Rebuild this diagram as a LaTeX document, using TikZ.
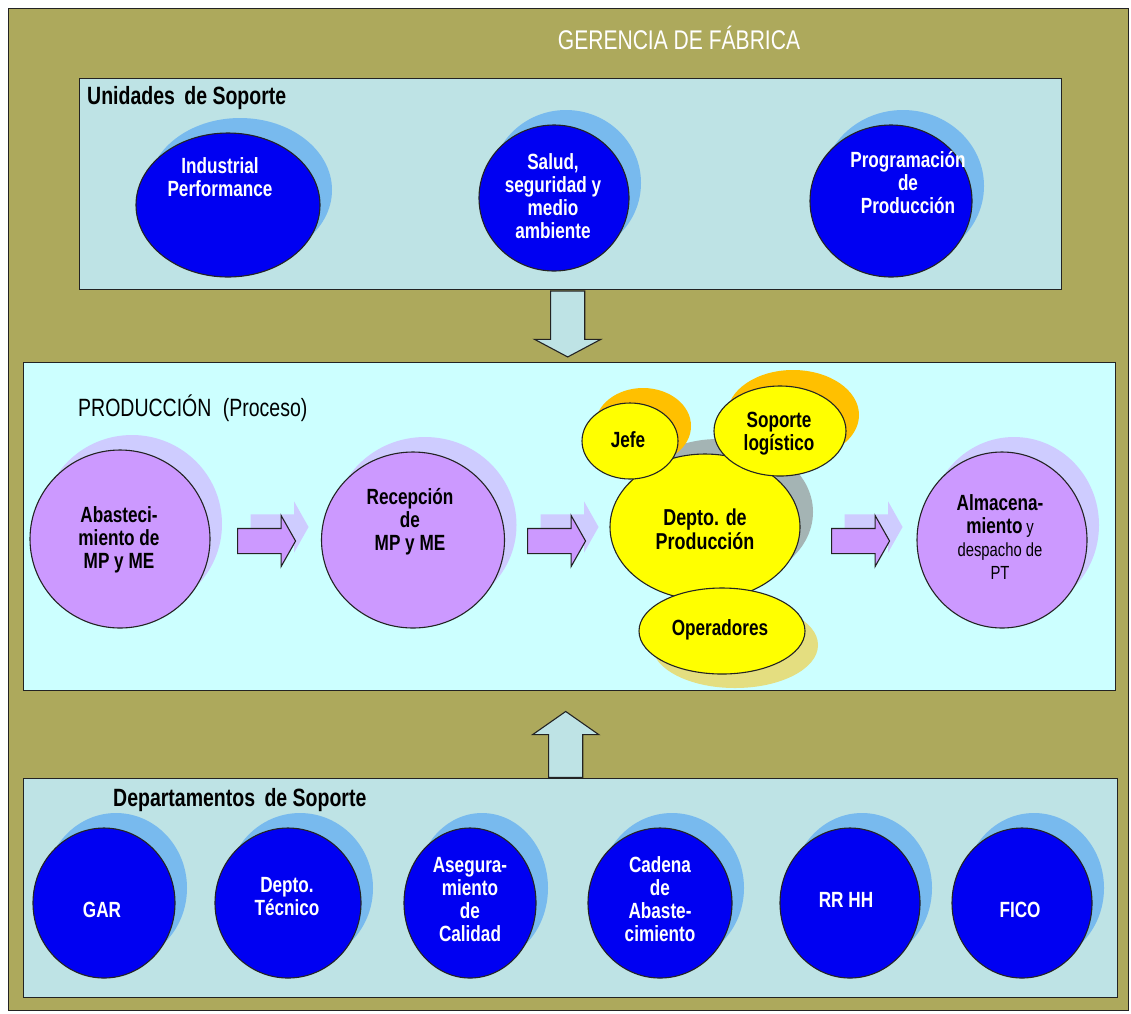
\documentclass[tikz,border=0pt]{standalone}
\usepackage{fontspec}
\setmainfont{Liberation Sans}[FakeStretch=0.86]
\newfontfamily\narrowsans{Liberation Sans}[FakeStretch=0.78]
\usetikzlibrary{shapes.geometric,shapes.arrows,shadows}

\definecolor{olive}{RGB}{173,169,92}
\definecolor{panelgray}{RGB}{190,227,229}
\definecolor{panelcyan}{RGB}{204,255,255}
\definecolor{deepblue}{RGB}{0,0,242}
\definecolor{skyshadow}{RGB}{120,186,238}
\definecolor{lilac}{RGB}{204,153,255}
\definecolor{lilacshadow}{RGB}{206,204,255}
\definecolor{sun}{RGB}{255,255,0}
\definecolor{amber}{RGB}{255,192,0}
\definecolor{slate}{RGB}{164,180,180}
\definecolor{khaki}{RGB}{228,222,128}
\definecolor{edge}{RGB}{35,35,35}

\tikzset{
  panel/.style={rectangle, draw=edge, line width=1.4pt, anchor=north west, inner sep=0pt},
  paneltitle/.style={anchor=west, inner sep=0pt, font=\narrowsans\bfseries\fontsize{25}{28}\selectfont},
  circtext/.style={align=center, inner sep=0pt, font=\narrowsans\bfseries\fontsize{22}{23}\selectfont},
  wtext/.style={circtext, text=white},
  btext/.style={circtext, text=black},
  blob/.style={ellipse, draw=edge, line width=1.1pt, inner sep=0pt},
  bluecirc/.style={blob, fill=deepblue,
    general shadow={fill=skyshadow, shadow xshift=12pt, shadow yshift=15pt}},
  lilaccirc/.style={blob, fill=lilac,
    general shadow={fill=lilacshadow, shadow xshift=12pt, shadow yshift=15pt}},
  suncirc/.style={blob, fill=sun},
  % the shaft half-width comes from the inner sep across the arrow
  blockarrow/.style={single arrow, draw=edge, line width=1.1pt, anchor=tail},
  flowarrow/.style={blockarrow, fill=lilac, minimum height=58pt,
    inner xsep=0pt, inner ysep=12pt,
    single arrow head extend=13pt, single arrow tip angle=121,
    general shadow={fill=lilacshadow, shadow xshift=13pt, shadow yshift=14pt}},
  linkarrow/.style={blockarrow, fill=panelgray, minimum height=66pt,
    inner xsep=16.5pt, inner ysep=0pt, single arrow head extend=16pt}
}

\begin{document}
\begin{tikzpicture}[x=1pt,y=-1pt]
\useasboundingbox[fill=white] (0,0) rectangle (1131,1013);

% outer frame
\node[panel, fill=olive, line width=1pt, minimum width=1120pt, minimum height=1002pt] (frame) at (8,8) {};
\node[inner sep=0pt, text=white, font=\narrowsans\fontsize{27}{30}\selectfont] (gerencia) at (679,38) {GERENCIA DE FÁBRICA};

% support units
\node[panel, fill=panelgray, minimum width=982pt, minimum height=211pt] (unidades) at (79,78) {};
\node[paneltitle] (unidadesT) at (87,98) {Unidades\hspace{4pt} de Soporte};

\node[bluecirc, minimum width=184pt, minimum height=144pt] (ip) at (228,205) {};
\node[wtext] (ipT) at (220,177) {Industrial\\Performance};
\node[bluecirc, minimum width=150pt, minimum height=146pt] (salud) at (554,198) {};
\node[wtext] (saludT) at (553,196) {Salud,\\seguridad y\\medio\\ambiente};
\node[bluecirc, minimum width=162pt, minimum height=152pt] (prog) at (891,201) {};
\node[wtext] (progT) at (908,183) {Programación\\de\\Producción};

% production process
\node[panel, fill=panelcyan, minimum width=1092pt, minimum height=328pt] (produccion) at (23,362) {};
\node[paneltitle, font=\narrowsans\fontsize{25}{28}\selectfont] (produccionT) at (78,408) {PRODUCCIÓN\hspace{6pt} (Proceso)};

\node[linkarrow, single arrow tip angle=124, shape border rotate=270] (bajada) at ([xshift=-3pt]unidades.south) {};

\node[lilaccirc, minimum width=180pt, minimum height=178pt] (abast) at (120,539) {};
\node[btext] (abastT) at (119,540) {Abasteci-\\miento de\\MP y ME};
\node[lilaccirc, minimum width=183pt, minimum height=176pt] (recep) at (413,540) {};
\node[btext] (recepT) at (410,522) {Recepción\\de\\MP y ME};

\node[flowarrow] (f1) at (237,541) {};
\node[flowarrow] (f2) at (527,541) {};
\node[flowarrow] (f3) at (831,541) {};

\node[suncirc, minimum width=190pt, minimum height=146pt,
  general shadow={fill=slate, shadow xshift=13pt, shadow yshift=15pt}] (depto) at (705,527) {};
\node[suncirc, minimum width=96pt, minimum height=76pt,
  general shadow={fill=amber, shadow xshift=13pt, shadow yshift=15pt}] (jefe) at (630,441) {};
\node[suncirc, minimum width=132pt, minimum height=90pt,
  general shadow={fill=amber, shadow xshift=13pt, shadow yshift=16pt}] (logis) at (780,431) {};
\node[suncirc, minimum width=166pt, minimum height=86pt,
  general shadow={fill=khaki, shadow xshift=13pt, shadow yshift=-14pt}] (oper) at (722,631) {};
\node[btext, font=\narrowsans\bfseries\fontsize{23}{24}\selectfont] (deptoT) at (705,529) {Depto. de\\Producción};
\node[btext] (jefeT) at (628,440) {Jefe};
\node[btext] (logisT) at (779,434) {Soporte\\logístico};
\node[btext] (operT) at (720,630) {Operadores};

\node[lilaccirc, minimum width=170pt, minimum height=176pt] (almac) at (1002,540) {};
\node[btext] (almacT) at (1000,537) {Almacena-\\miento\,{\mdseries\fontsize{19}{22}\selectfont y}\\{\mdseries\fontsize{19}{20}\selectfont despacho de}\\{\mdseries\fontsize{19}{20}\selectfont PT}};

% support departments
\node[panel, fill=panelgray, minimum width=1094pt, minimum height=219pt] (departamentos) at (23,778) {};
\node[paneltitle] (departamentosT) at (113,800) {Departamentos\hspace{4pt} de Soporte};

\node[linkarrow, single arrow tip angle=110, shape border rotate=90] (subida) at ([xshift=-5pt]departamentos.north) {};

\node[bluecirc, minimum width=142pt, minimum height=150pt] (gar) at (104,903) {};
\node[wtext] (garT) at (102,910) {GAR};
\node[bluecirc, minimum width=146pt, minimum height=150pt] (tecnico) at (288,903) {};
\node[wtext] (tecnicoT) at (287,897) {Depto.\\Técnico};
\node[bluecirc, minimum width=132pt, minimum height=150pt] (calidad) at (470,903) {};
\node[wtext] (calidadT) at (470,900) {Asegura-\\miento\\de\\Calidad};
\node[bluecirc, minimum width=144pt, minimum height=150pt] (cadena) at (660,903) {};
\node[wtext] (cadenaT) at (660,899) {Cadena\\de\\Abaste-\\cimiento};
\node[bluecirc, minimum width=140pt, minimum height=150pt] (rrhh) at (850,903) {};
\node[wtext] (rrhhT) at (846,900) {RR HH};
\node[bluecirc, minimum width=140pt, minimum height=150pt] (fico) at (1022,903) {};
\node[wtext] (ficoT) at (1020,910) {FICO};
\end{tikzpicture}
\end{document}
